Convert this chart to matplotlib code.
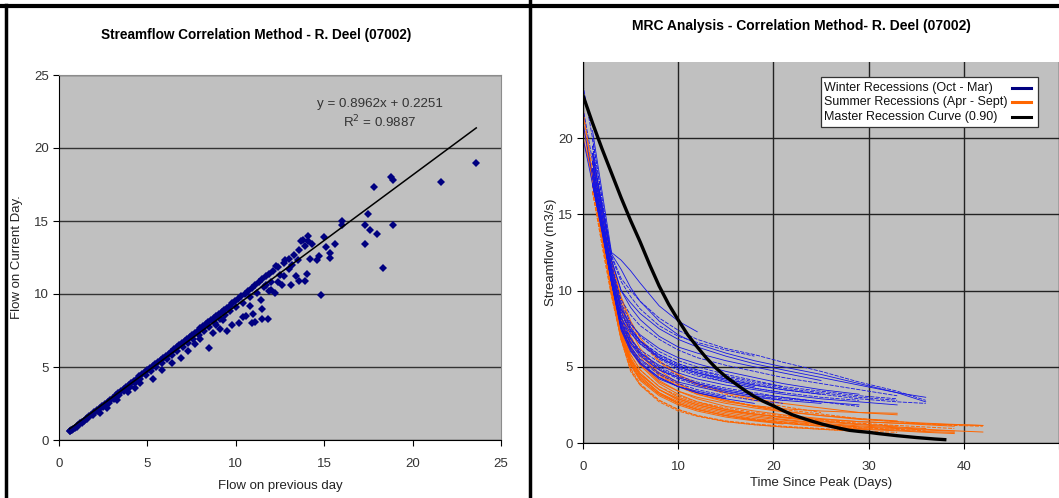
import numpy as np
import matplotlib
matplotlib.use("Agg")
import matplotlib.pyplot as plt
from matplotlib.lines import Line2D
from matplotlib.patches import Rectangle

plt.rcParams['font.family'] = ['Liberation Sans', 'DejaVu Sans']

# ---- left panel: flow on previous day vs current day ----
band_pairs = [
    (0.6, 0.6), (0.65, 0.62), (0.7, 0.68), (0.75, 0.7), (0.8, 0.77), (0.9, 0.85), (1.0, 0.95),
    (1.1, 1.04), (1.2, 1.14), (1.3, 1.24), (1.4, 1.33), (1.5, 1.43), (1.6, 1.52), (1.7, 1.62),
    (1.8, 1.72), (1.9, 1.81), (2.0, 1.9), (2.15, 2.05), (2.3, 2.19), (2.45, 2.33), (2.6, 2.48),
    (2.75, 2.62), (2.9, 2.77), (3.05, 2.91), (3.2, 3.05), (3.35, 3.2), (3.5, 3.34), (3.65, 3.48),
    (3.8, 3.63), (3.95, 3.77), (4.1, 3.91), (4.25, 4.06), (4.4, 4.2), (4.55, 4.35), (4.7, 4.49),
    (4.85, 4.63), (5.0, 4.78), (5.15, 4.92), (5.3, 5.06), (5.45, 5.2), (5.6, 5.35), (5.75, 5.49),
    (5.9, 5.63), (6.05, 5.78), (6.2, 5.92), (6.35, 6.06), (6.5, 6.2), (6.65, 6.35), (6.8, 6.5),
    (6.95, 6.63), (7.1, 6.78), (7.25, 6.92), (7.4, 7.06), (7.55, 7.2), (7.7, 7.35), (7.85, 7.5),
    (8.0, 7.64), (8.15, 7.78), (8.3, 7.92), (8.45, 8.06), (8.6, 8.2), (8.75, 8.35), (8.9, 8.5),
    (9.05, 8.64), (9.2, 8.78), (9.35, 8.92), (9.5, 9.06), (9.65, 9.2), (9.8, 9.35), (9.95, 9.5),
    (10.1, 9.64), (10.3, 9.83), (10.5, 10.0), (10.7, 10.2), (10.9, 10.4), (11.1, 10.6), (11.3, 10.8),
    (11.5, 11.0), (11.7, 11.2), (11.9, 11.4), (12.1, 11.6), (12.4, 11.85), (12.7, 12.1), (13.0, 12.4),
    (13.3, 12.7), (13.6, 13.0), (13.9, 13.3), (14.1, 13.6),
]
lower_pairs = [
    (1.0, 0.9), (1.3, 1.18), (1.6, 1.46), (1.9, 1.74), (2.2, 2.0), (2.5, 2.28), (2.8, 2.56),
    (3.1, 2.84), (3.4, 3.1), (3.7, 3.38), (4.0, 3.66), (4.3, 3.93), (4.6, 4.2), (4.9, 4.48),
    (5.2, 4.75), (5.5, 5.02), (5.8, 5.3), (6.1, 5.57), (6.4, 5.84), (6.7, 6.1), (7.0, 6.38),
    (7.3, 6.65), (7.6, 6.92), (7.9, 7.2), (8.2, 7.45), (8.5, 7.73), (8.8, 8.0), (9.1, 8.27),
    (9.4, 8.55), (9.7, 8.82), (10.0, 9.1), (10.4, 9.4), (10.8, 9.8), (11.2, 10.1), (11.6, 10.5),
    (12.0, 10.8), (12.5, 11.3), (13.0, 11.7),
]
outlier_pairs = [
    (2.3, 1.85), (2.7, 2.2), (3.3, 2.75), (3.9, 3.3), (4.3, 3.55), (4.6, 3.9), (5.3, 4.15),
    (5.8, 4.8), (6.4, 5.3), (6.9, 5.6), (7.3, 6.1), (7.7, 6.6), (8.0, 6.95), (8.5, 6.3),
    (8.7, 7.3), (9.1, 7.6), (9.5, 7.5), (9.8, 7.9), (10.2, 8.0), (10.4, 8.4), (10.9, 8.0),
    (11.1, 8.1), (11.5, 8.3), (11.8, 8.3), (10.6, 8.5), (11.5, 9.0), (11.4, 9.6), (11.9, 10.2),
    (12.2, 10.1), (12.6, 10.6), (13.1, 10.6), (13.4, 11.2), (13.6, 10.9), (13.9, 10.9),
    (14.0, 11.4), (14.2, 12.4), (14.6, 12.3), (14.7, 12.6), (14.8, 9.9), (15.0, 13.9),
    (15.1, 13.2), (15.3, 12.8), (15.3, 12.5), (15.6, 13.4), (16.0, 15.0), (16.0, 14.7),
    (17.3, 14.7), (17.3, 13.4), (17.5, 15.5), (17.6, 14.4), (17.8, 17.3), (18.0, 14.1),
    (18.3, 11.8), (18.8, 18.0), (18.9, 17.8), (18.9, 14.7), (21.6, 17.7), (23.6, 19.0),
    (14.3, 13.4), (13.8, 13.7), (13.5, 12.3), (12.8, 12.3), (12.3, 11.9), (13.2, 12.0),
    (12.0, 10.3), (11.7, 10.6), (10.8, 9.2), (11.0, 8.6), (9.3, 8.2), (8.9, 7.9),
    (12.7, 11.2), (12.4, 10.8), (14.1, 14.0), (13.7, 13.6),
]
trend_slope = 0.8962
trend_intercept = 0.2251
trend_x = [0.6, 23.6]

# ---- right panel: recession curves ----
nan = np.nan
recession_days = [0, 1, 2, 3, 4, 5, 6, 8, 10, 12, 15, 18, 21, 25, 29, 33, 36, 39, 42]

winter_curves = [
    [nan, 20.5, 16.5, 12.5, 12.0, 11.3, 10.5, 9.0, 8.0, 7.3],
    [23.5, 20.0, 16.0, 12.3, 10.8, 10.0, 9.3, 8.2, 7.4, 6.8, 6.2, 5.8, 5.3, 4.7, 4.0, 3.4, 2.8],
    [nan, 19.0, 15.5, 12.0, 10.0, 9.2, 8.5, 7.5, 6.8, 6.3, 5.7, 5.2, 4.8, 4.3, 3.8, 3.3, 3.0],
    [nan, 19.5, 15.0, 11.5, 9.4, 8.4, 7.7, 6.8, 6.1, 5.6, 5.1, 4.7, 4.3, 3.9, 3.5, 3.1],
    [nan, 18.5, 15.0, 11.2, 8.8, 7.8, 7.1, 6.2, 5.6, 5.2, 4.7, 4.3, 3.9, 3.5, 3.2],
    [nan, 18.5, 14.5, 11.0, 8.4, 7.4, 6.7, 5.8, 5.2, 4.8, 4.3, 3.9, 3.6, 3.3, 3.0, 2.8],
    [nan, 18.0, 14.5, 10.8, 8.2, 7.2, 6.5, 5.6, 5.0, 4.6, 4.2, 3.8, 3.5, 3.2],
    [22.0, 18.5, 14.5, 10.8, 8.0, 6.8, 6.1, 5.3, 4.8, 4.4, 4.0, 3.6, 3.3, 3.0, 2.8],
    [nan, 17.5, 14.0, 10.6, 7.9, 6.6, 5.9, 5.1, 4.6, 4.2, 3.8, 3.5, 3.2, 2.9, 2.7, 2.5],
    [nan, 19.5, 15.5, 11.8, 9.2, 7.9, 7.0, 6.0, 5.4, 5.0, 4.5, 4.1, 3.7],
    [nan, 18.0, 14.0, 10.5, 7.8, 6.5, 5.7, 4.8, 4.3, 3.9, 3.5, 3.2, 3.0, 2.7, 2.5],
    [nan, 17.5, 14.5, 11.5, 8.6, 7.3, 6.5, 5.5, 4.9, 4.5, 4.0, 3.6, 3.3],
    [21.0, 17.5, 14.0, 10.5, 7.6, 6.3, 5.5, 4.6, 4.0, 3.7, 3.3, 3.0, 2.8, 2.6],
    [nan, 17.0, 14.0, 10.8, 8.0, 6.6, 5.8, 4.8, 4.2, 3.8, 3.4, 3.1, 2.8],
    [nan, 18.5, 15.0, 11.6, 9.0, 7.6, 6.7, 5.6, 5.0, 4.6, 4.1, 3.7],
    [nan, 17.5, 14.0, 10.6, 7.7, 6.3, 5.4, 4.5, 3.9, 3.5, 3.1, 2.8, 2.6],
    [nan, 17.0, 14.0, 10.6, 7.5, 6.1, 5.2, 4.3, 3.7, 3.4, 3.0],
    [nan, 18.0, 14.5, 11.0, 8.3, 6.9, 6.0, 5.0, 4.4, 4.0, 3.6, 3.3, 3.0, 2.7, 2.4],
    [20.0, 17.0, 14.0, 10.5, 7.4, 6.0, 5.2, 4.2, 3.7, 3.3, 2.9],
    [nan, 17.0, 14.5, 11.0, 8.2, 6.8, 5.9, 4.9, 4.3, 3.9, 3.4, 3.1, 2.9, 2.7],
    [nan, 19.0, 15.5, 12.4, 11.4, 10.2, 9.3, 8.0, 7.1, 6.5, 5.9, 5.4, 5.0, 4.5, 3.9, 3.3, 2.7],
    [nan, 18.5, 15.0, 11.3, 8.8, 7.5, 6.7, 5.8, 5.2, 4.8, 4.4, 4.0, 3.7, 3.4, 3.1, 2.9],
    [nan, 17.0, 13.8, 10.5, 7.6, 6.2, 5.3, 4.3, 3.7, 3.3, 2.9, 2.6],
    [nan, 18.0, 14.5, 11.2, 8.6, 7.4, 6.6, 5.7, 5.1, 4.7, 4.2, 3.8, 3.5, 3.2, 2.9, 2.7, 2.6],
    [nan, 19.0, 15.5, 12.0, 10.0, 8.9, 8.1, 7.0, 6.3, 5.9, 5.4, 5.0, 4.6, 4.1],
    [nan, 20.0, 16.0, 12.2, 10.6, 9.6, 8.8, 7.7, 7.0, 6.6, 6.1, 5.7],
]

summer_curves = [
    [nan, 18.5, 14.5, 10.5, 7.5, 5.8, 4.8, 3.7, 3.1, 2.7, 2.3, 2.0, 1.8, 1.5, 1.3, 1.15, 1.05, 0.95],
    [22.0, 17.5, 14.0, 10.0, 7.0, 5.2, 4.2, 3.2, 2.6, 2.2, 1.8, 1.5, 1.3, 1.1, 0.95, 0.85, 0.75, 0.7],
    [nan, 17.0, 13.5, 10.0, 7.0, 5.4, 4.5, 3.5, 2.9, 2.5, 2.1, 1.9, 1.7, 1.55, 1.4, 1.3, 1.25, 1.2, 1.15],
    [nan, 16.5, 13.0, 9.6, 6.8, 4.9, 3.9, 2.8, 2.2, 1.8, 1.4, 1.2, 1.05, 0.9, 0.78, 0.7],
    [nan, 18.5, 15.0, 11.5, 8.8, 7.0, 5.8, 4.5, 3.7, 3.2, 2.7, 2.45, 2.25, 2.1, 2.0, 1.95],
    [nan, 17.5, 14.0, 10.2, 7.2, 5.4, 4.4, 3.3, 2.6, 2.2, 1.8, 1.5, 1.3, 1.1, 0.9, 0.8, 0.7, 0.62],
    [nan, 18.5, 15.0, 11.8, 9.5, 7.8, 6.7, 5.3, 4.4, 3.8, 3.2, 2.8, 2.4, 2.0],
    [21.0, 17.0, 13.5, 9.8, 6.9, 5.1, 4.1, 3.1, 2.5, 2.1, 1.7, 1.45, 1.25],
    [nan, 18.0, 14.5, 10.8, 7.9, 6.1, 5.1, 3.9, 3.2, 2.7, 2.2, 1.9, 1.7, 1.45, 1.25, 1.1],
    [nan, 17.0, 13.5, 9.8, 6.8, 4.8, 3.8, 2.7, 2.1, 1.75, 1.4, 1.2, 1.05, 0.9, 0.75],
    [nan, 18.0, 14.5, 11.0, 8.2, 6.4, 5.3, 4.1, 3.4, 2.9, 2.4, 2.1, 1.85, 1.6, 1.4, 1.3, 1.2, 1.1],
    [nan, 17.5, 14.0, 10.4, 7.4, 5.6, 4.6, 3.5, 2.8, 2.4, 2.0, 1.7, 1.5, 1.25, 1.05],
    [nan, 16.5, 13.5, 10.0, 7.0, 5.2, 4.2, 3.2, 2.6, 2.2, 1.8, 1.55, 1.35, 1.15, 1.0, 0.9, 0.8],
    [nan, 19.0, 15.5, 11.8, 9.2, 7.4, 6.2, 4.8, 3.9, 3.3, 2.8, 2.4, 2.1, 1.8, 1.55, 1.4, 1.3, 1.22, 1.15],
    [nan, 17.0, 13.5, 10.0, 7.1, 5.3, 4.3, 3.3, 2.7, 2.3, 1.9, 1.6, 1.4, 1.2, 1.05, 0.95, 0.85, 0.78],
    [nan, 18.5, 15.0, 11.5, 8.8, 7.0, 5.9, 4.6, 3.8, 3.3, 2.8, 2.4, 2.1],
    [20.0, 17.5, 14.0, 10.5, 7.6, 5.8, 4.8, 3.7, 3.0, 2.6, 2.2, 1.9, 1.65, 1.4, 1.2, 1.05, 0.95],
    [nan, 18.0, 14.5, 11.0, 8.0, 6.2, 5.2, 4.0, 3.4, 3.0, 2.6, 2.3, 2.05, 1.8, 1.6, 1.45],
    [nan, 16.5, 13.0, 9.7, 6.8, 4.7, 3.8, 2.8, 2.2, 1.8, 1.45, 1.25, 1.1, 0.95, 0.8],
    [nan, 17.5, 14.0, 10.3, 7.3, 5.5, 4.5, 3.5, 2.9, 2.5, 2.1, 1.8, 1.55, 1.3, 1.12, 1.0, 0.9, 0.8, 0.72],
    [nan, 19.0, 15.5, 12.0, 9.6, 8.0, 6.9, 5.4, 4.5, 3.9, 3.3, 2.9, 2.6, 2.3, 2.0, 1.85],
    [21.5, 18.0, 14.5, 11.0, 8.4, 6.7, 5.6, 4.4, 3.7, 3.2, 2.8, 2.45, 2.2, 1.9, 1.6, 1.4, 1.25, 1.15, 1.1],
]

master_days = list(range(0, 39))
master_flow = [22.8, 21.0, 19.3, 17.7, 16.1, 14.6, 13.2, 11.7, 10.3, 9.1, 8.07, 7.1, 6.3,
               5.55, 4.9, 4.35, 3.9, 3.45, 3.05, 2.72, 2.44, 2.13, 1.85, 1.64, 1.44, 1.26,
               1.1, 0.96, 0.83, 0.76, 0.70, 0.62, 0.55, 0.48, 0.42, 0.36, 0.31, 0.26, 0.22]

legend_labels = ["Winter Recessions (Oct - Mar)", "Summer Recessions (Apr - Sept)",
                 "Master Recession Curve (0.90)"]
legend_colors = ['#000080', '#ff6600', 'black']

# ---- figure ----
W, H = 1059, 498
fig = plt.figure(figsize=(W / 100, H / 100), dpi=100)
bg = '#c0c0c0'
tick_color = '#333333'

# left chart
ax1 = fig.add_axes([59 / W, 1 - 440 / H, 442 / W, 365 / H])
ax1.set_facecolor(bg)
for pairs in (lower_pairs, outlier_pairs, band_pairs):
    xs = [p[0] for p in pairs]
    ys = [p[1] for p in pairs]
    ax1.plot(xs, ys, linestyle='none', marker='D', markersize=4.3,
             color='#000080', markeredgewidth=0, zorder=3)
tx = np.array(trend_x)
ax1.plot(tx, trend_slope * tx + trend_intercept, color='black', lw=1.1, zorder=4)
ax1.set_xlim(0, 25)
ax1.set_ylim(0, 25)
ax1.set_xticks([0, 5, 10, 15, 20, 25])
ax1.set_yticks([0, 5, 10, 15, 20, 25])
ax1.yaxis.grid(True, color='#333333', lw=1.0)
ax1.set_axisbelow(True)
for side in ('top', 'right'):
    ax1.spines[side].set_color('#8c8c8c')
for side in ('left', 'bottom'):
    ax1.spines[side].set_color('black')
ax1.tick_params(direction='out', length=4, width=0.8, labelsize=9.5,
                labelcolor=tick_color, pad=3)
ax1.tick_params(axis='x', pad=9)
ax1.set_xlabel("Flow on previous day", fontsize=9.5, color='#222222', labelpad=7)
ax1.set_ylabel("Flow on Current Day.", fontsize=9.5, color='#222222', labelpad=8)
ax1.set_title("Streamflow Correlation Method - R. Deel (07002)", fontsize=9.8,
              fontweight='bold', pad=26, x=0.446)
ax1.text(0.726, 0.892, "y = 0.8962x + 0.2251\nR$^2$ = 0.9887", transform=ax1.transAxes,
         ha='center', va='center', fontsize=9.6, color='#333333', linespacing=1.25)

# right chart
ax2 = fig.add_axes([583 / W, 1 - 443 / H, 476 / W, 381 / H])
ax2.set_facecolor(bg)
days = np.array(recession_days, dtype=float)
for i, curve in enumerate(summer_curves):
    q = np.array(curve, dtype=float)
    ls = '-' if i % 3 else (0, (4, 1.5))
    ax2.plot(days[:len(q)], q, color='#ff6600', lw=0.7, ls=ls, zorder=2)
for i, curve in enumerate(winter_curves):
    q = np.array(curve, dtype=float)
    ls = (0, (5, 1.5)) if i % 2 else '-'
    ax2.plot(days[:len(q)], q, color='#1515e6', lw=0.6, ls=ls, zorder=2)
ax2.plot(master_days, master_flow, color='black', lw=2.4, zorder=4)
ax2.set_xlim(0, 50)
ax2.set_ylim(0, 25)
ax2.set_xticks([0, 10, 20, 30, 40, 50])
ax2.set_xticklabels(['0', '10', '20', '30', '40', ''])
ax2.set_yticks([0, 5, 10, 15, 20])
ax2.grid(True, color='#222222', lw=1.0)
ax2.set_axisbelow(True)
ax2.spines['top'].set_visible(False)
ax2.spines['right'].set_visible(False)
ax2.tick_params(direction='out', length=4, width=0.8, labelsize=9.5,
                labelcolor=tick_color, pad=3)
ax2.tick_params(axis='x', pad=9)
ax2.set_xlabel("Time Since Peak (Days)", fontsize=9.5, color='#222222', labelpad=3)
ax2.set_ylabel("Streamflow (m3/s)", fontsize=9.5, color='#222222', labelpad=1)
ax2.set_title("MRC Analysis - Correlation Method- R. Deel (07002)", fontsize=10,
              fontweight='bold', pad=23, x=0.458)

# legend box drawn like the Excel one: text left, line keys on the right
fig.add_artist(Rectangle((821 / W, 1 - 127 / H), 217 / W, 50 / H, transform=fig.transFigure,
                         facecolor='white', edgecolor='#333333', lw=0.9, zorder=10))
for k, (label, col) in enumerate(zip(legend_labels, legend_colors)):
    yy = 1 - (88 + 14.5 * k) / H
    fig.text(824 / W, yy, label, fontsize=9, va='center', ha='left', color='#111111',
             zorder=11)
    fig.add_artist(Line2D([1012 / W, 1031 / W], [yy, yy], color=col, lw=2.2,
                          transform=fig.transFigure, zorder=11))

# panel frames
fig.add_artist(Line2D([6 / W, 6 / W], [0, 1 - 5 / H], color='black', lw=2.5,
                      transform=fig.transFigure))
fig.add_artist(Line2D([0, 1], [1 - 6 / H, 1 - 6 / H], color='black', lw=3,
                      transform=fig.transFigure))
fig.add_artist(Line2D([530 / W, 530 / W], [0, 1], color='black', lw=2.5,
                      transform=fig.transFigure))

fig.savefig("out.png", dpi=100, facecolor='white')
